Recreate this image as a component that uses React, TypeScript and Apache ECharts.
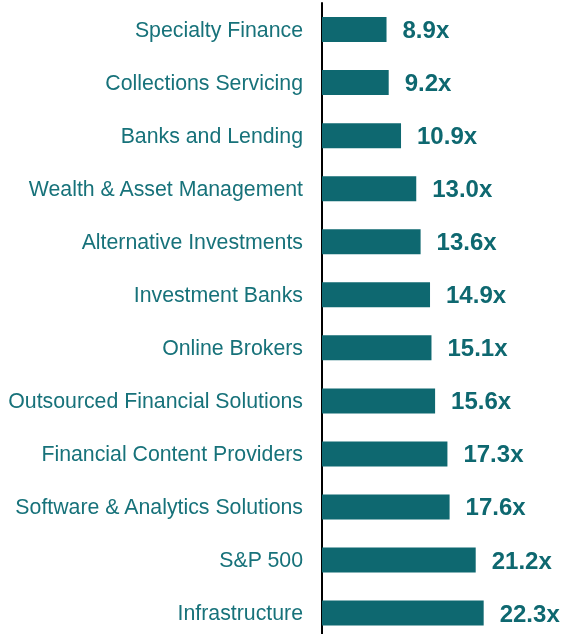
import React, { useEffect, useRef } from "react";
import * as echarts from "echarts";

const categories = [
  "Specialty Finance",
  "Collections Servicing",
  "Banks and Lending",
  "Wealth & Asset Management",
  "Alternative Investments",
  "Investment Banks",
  "Online Brokers",
  "Outsourced Financial Solutions",
  "Financial Content Providers",
  "Software & Analytics Solutions",
  "S&P 500",
  "Infrastructure",
];

const multiples = [8.9, 9.2, 10.9, 13.0, 13.6, 14.9, 15.1, 15.6, 17.3, 17.6, 21.2, 22.3];

const FONT = '"Liberation Sans", Arial, Helvetica, sans-serif';

export default function App() {
  const ref = useRef<HTMLDivElement>(null);

  useEffect(() => {
    document.body.style.margin = "0";
    if (!ref.current) return;
    const chart = echarts.init(ref.current, null, { renderer: "svg" });
    chart.setOption({
      animation: false,
      grid: {
        left: 322,
        right: 24.5,
        top: 3,
        height: 636.6,
        containLabel: false,
        outerBoundsMode: "none",
      },
      xAxis: {
        type: "value",
        min: 0,
        max: 30,
        show: false,
      },
      yAxis: {
        type: "category",
        data: categories,
        inverse: true,
        axisLine: { show: true, lineStyle: { color: "#000000", width: 2 } },
        axisTick: { show: false },
        splitLine: { show: false },
        axisLabel: {
          color: "#17727a",
          fontSize: 21.3,
          fontFamily: FONT,
          margin: 19,
        },
      },
      series: [
        {
          type: "bar",
          data: multiples,
          barWidth: 25,
          itemStyle: { color: "#0e6870" },
          label: {
            show: true,
            position: "right",
            distance: 16,
            formatter: (p: any) => Number(p.value).toFixed(1) + "x",
            color: "#0e6870",
            fontSize: 24,
            fontWeight: "bold",
            fontFamily: FONT,
          },
        },
      ],
    });
    return () => chart.dispose();
  }, []);

  return (
    <div
      ref={ref}
      style={{ position: "fixed", left: 0, top: 0, width: 564, height: 634 }}
    />
  );
}
